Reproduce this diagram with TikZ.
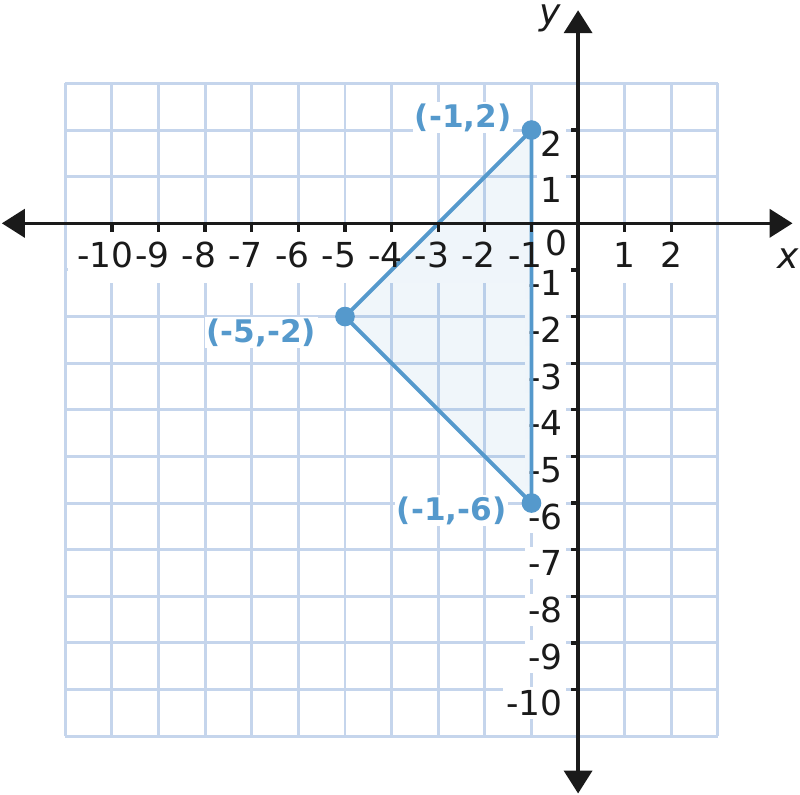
\documentclass[tikz,border=0pt]{standalone}
\usepackage{fontspec}
\setmainfont{DejaVu Sans}
\usetikzlibrary{arrows.meta,positioning}
\definecolor{gridblue}{HTML}{C5D5EC}
\definecolor{ptblue}{HTML}{5599CC}
\definecolor{axisblack}{HTML}{1A1A1A}

\begin{document}
\begin{tikzpicture}[
  x=0.5cm, y=0.5cm,
  gridline/.style = {draw=gridblue, line width=0.9pt},
  axisline/.style = {draw=axisblack, line width=1pt, <->,
                     >={Triangle[length=7pt, width=8.6pt]}},
  axtick/.style   = {draw=axisblack, line width=1pt},
  ticklab/.style  = {inner sep=1pt, text=axisblack,
                     font=\fontsize{10.5}{12}\selectfont},
  xlab/.style     = {ticklab, anchor=base},
  ylab/.style     = {ticklab, fill=white, anchor=north east},
  triedge/.style  = {draw=ptblue, line width=1.2pt},
  vdot/.style     = {circle, fill=ptblue, inner sep=0pt, minimum size=6pt},
  ptlab/.style    = {fill=white, inner sep=0.5pt, text=ptblue, anchor=base east,
                     font=\fontsize{9.5}{11}\selectfont\bfseries},
  axlab/.style    = {text=axisblack, font=\fontsize{11}{13}\selectfont\itshape},
]
\useasboundingbox (-12.40,-12.25) rectangle (4.76,4.79);

% grid, with a white band behind the x labels
\draw[gridline, step=0.5cm] (-11,-11) grid (3,3);
\fill[white] (-10.95,-0.05) rectangle (2.95,-1.27);

% y labels
\foreach \j in {1,...,10}
  \node[ylab] (yn\j) at (-0.25,-\j+0.07) {-\j};
\foreach \j in {1,2}
  \node[ylab] (yp\j) at (-0.25,\j+0.07) {\j};

% triangle
\coordinate (A) at (-1,2);
\coordinate (B) at (-5,-2);
\coordinate (C) at (-1,-6);
\fill[ptblue, fill opacity=0.09] (A) -- (B) -- (C) -- cycle;
\draw[triedge] (A) -- (B) -- (C) -- cycle;

% axes
\draw[axisline] (-12.36,0) -- (4.6,0);
\draw[axisline] (0,-12.23) -- (0,4.57);
\foreach \i in {-10,...,-1,1,2}
  \draw[axtick] (\i,0) -- (\i,-0.18);
\foreach \j in {-10,...,-1,1,2}
  \draw[axtick] (0,\j) -- (-0.16,\j);
\node[axlab] (xname) at (4.5,-0.75) {x};
\node[axlab] (yname) at (-0.6,4.4) {y};

% x labels
\foreach \i in {1,...,10}
  \node[xlab] (xn\i) at (-\i,-0.94) {\llap{-}\i};
\foreach \i in {1,2}
  \node[xlab] (xp\i) at (\i,-0.94) {\i};
\node[ticklab] (zero) at (-0.47,-0.42) {0};

% vertices
\node[vdot] (dA) at (A) {};
\node[vdot] (dB) at (B) {};
\node[vdot] (dC) at (C) {};
\node[ptlab] (lA) at (-1.38,2.06) {(-1,2)};
\node[ptlab] (lB) at (-5.57,-2.55) {(-5,-2)};
\node[ptlab] (lC) at (-1.49,-6.37) {(-1,-6)};
\end{tikzpicture}
\end{document}
